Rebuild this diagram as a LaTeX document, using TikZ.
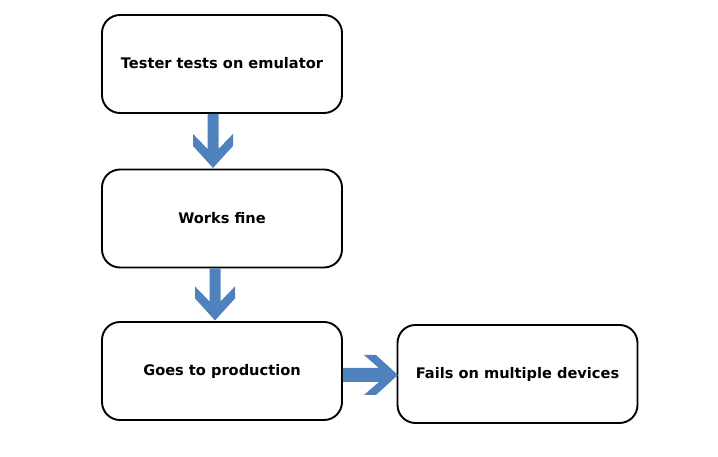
\documentclass[tikz,border=0pt]{standalone}
\usepackage{fontspec}
\setmainfont{DejaVu Sans}
\usetikzlibrary{calc}
\definecolor{arrowblue}{HTML}{4F81BD}
\tikzset{
  stepbox/.style={draw=black, line width=1.9pt, rounded corners=18pt, fill=white,
    minimum width=240pt, minimum height=98pt, inner sep=0pt,
    font=\fontsize{14.6pt}{17pt}\selectfont\bfseries},
  pics/blockarr/.style args={#1/#2}{code={
    \fill[arrowblue] (0,-#2) -- (#1-19,-#2) -- (#1-34,-20) -- (#1-22,-20) -- (#1,0)
      -- (#1-22,20) -- (#1-34,20) -- (#1-19,#2) -- (0,#2) -- cycle;
  }}
}
\begin{document}
\begin{tikzpicture}[x=1pt,y=1pt]
\useasboundingbox (0,0) rectangle (718,457);
\node[stepbox] (b1) at (222,393) {\raisebox{3pt}{Tester tests on emulator}};
\node[stepbox] (b2) at (222,238.5) {Works fine};
\node[stepbox] (b3) at (222,86) {Goes to production};
\node[stepbox] (b4) at (517.5,83) {Fails on multiple devices};
\pic[rotate=-90] at ($(b1.south)+(-9,0)$) {blockarr=54/5.5};
\pic[rotate=-90] at ($(b2.south)+(-7,0)$) {blockarr=52/5.5};
\pic at ($(b3.east)+(0,-4)$) {blockarr=55/7};
\end{tikzpicture}
\end{document}
